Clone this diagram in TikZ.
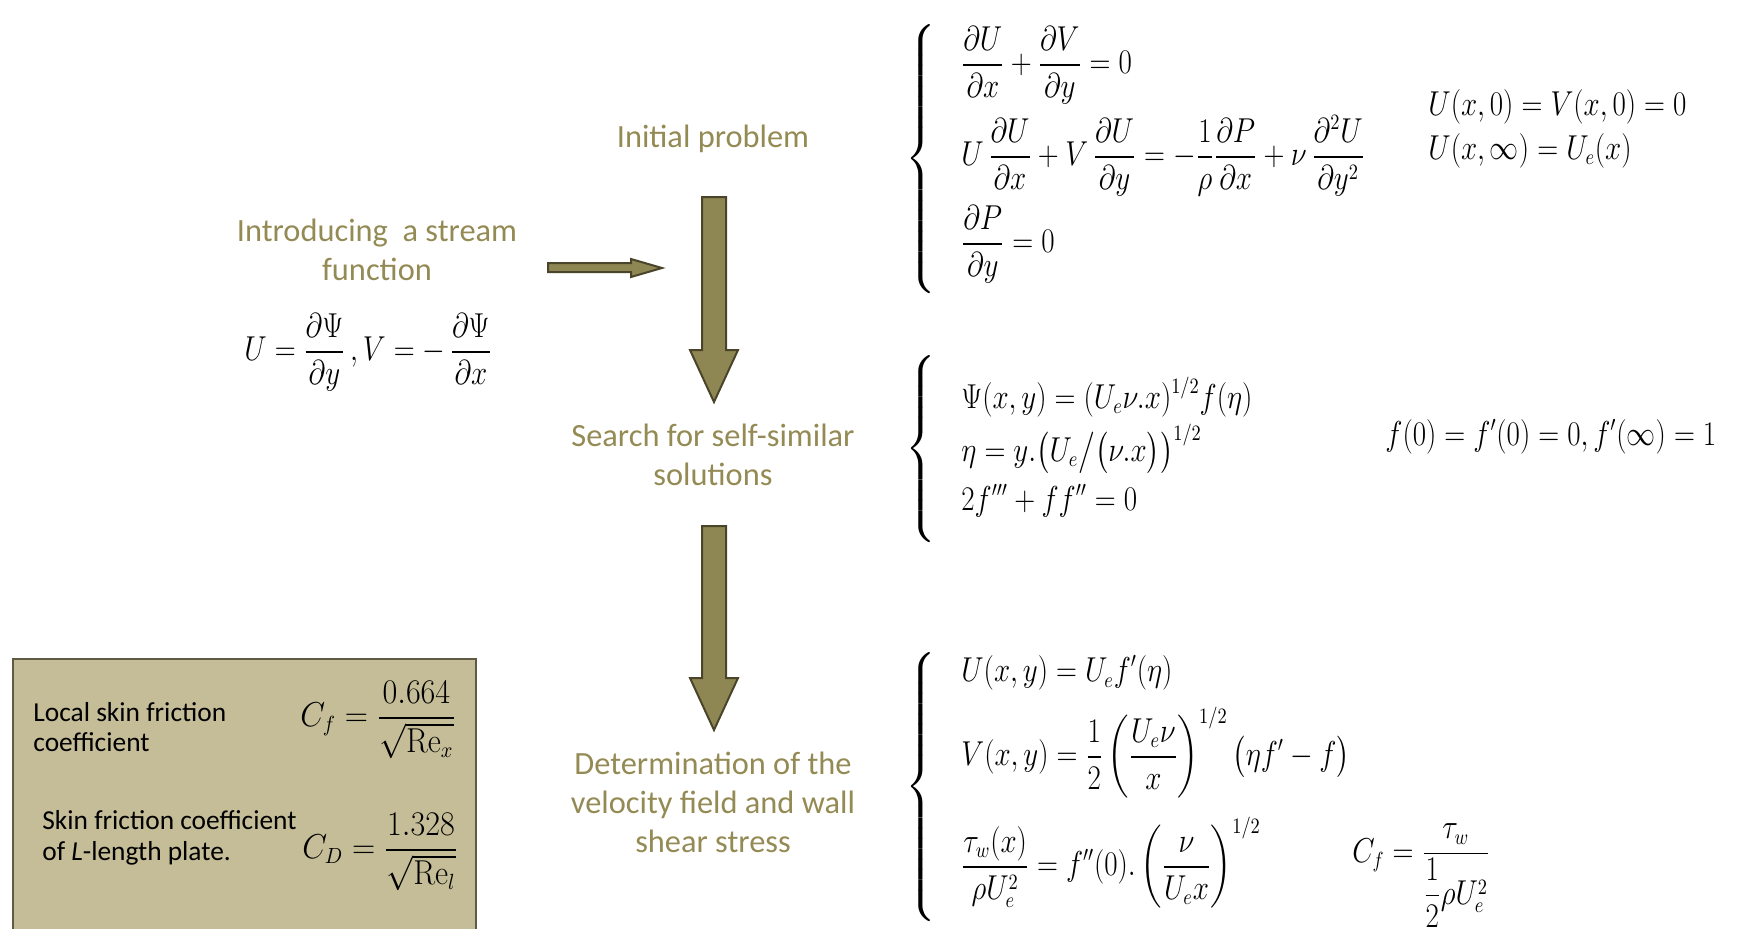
\documentclass[tikz,border=0pt]{standalone}
\usepackage{amsmath}
\usepackage{graphicx}
\usepackage[no-math]{fontspec}
\setmainfont{Carlito}
\usetikzlibrary{positioning}

\definecolor{olivetxt}{HTML}{948A54}
\definecolor{arrowfill}{HTML}{8F8753}
\definecolor{arrowline}{HTML}{4A452A}
\definecolor{boxfill}{HTML}{C4BD97}
\definecolor{boxline}{HTML}{5E5A44}

% narrow display maths, as in the slide
\newcommand{\sqz}[1]{\scalebox{0.84}[1]{$\displaystyle #1$}}

\tikzset{
  headtxt/.style={text=olivetxt, align=center, inner sep=0pt,
    font=\fontsize{16.2}{19.5}\selectfont},
  boxtxt/.style={anchor=west, align=left, inner sep=0pt,
    font=\fontsize{13.7}{15.2}\selectfont},
  eqn/.style={anchor=west, inner sep=0pt, font=\fontsize{16}{19}\selectfont},
  blockarr/.style={fill=arrowfill, draw=arrowline, line width=1pt},
}

\begin{document}
\begin{tikzpicture}[x=0.5pt,y=-0.5pt]
\useasboundingbox (0,0) rectangle (1742,928);

% flow labels
\node[headtxt] (init) at (713,139) {Initial problem};
\node[headtxt] (stream) at (377,250) {Introducing\ \ a stream\\function};
\node[headtxt] (search) at (713,455) {Search for self-similar\\solutions};
\node[headtxt] (determ) at (713,802) {Determination of the\\velocity field and wall\\shear stress};

\node[eqn, anchor=center] (streameq) at (368,352)
  {\sqz{U=\frac{\partial\Psi}{\partial y}\,,V=-\,\frac{\partial\Psi}{\partial x}}};

% block arrows
\draw[blockarr] (548,263) -- (631,263) -- (631,259) -- (662,268) -- (631,277)
  -- (631,272) -- (548,272) -- cycle;
\draw[blockarr] (702,197) -- (726,197) -- (726,350) -- (738,350) -- (714,402)
  -- (690,350) -- (702,350) -- cycle;
\draw[blockarr] (702,526) -- (726,526) -- (726,678) -- (738,678) -- (714,730)
  -- (690,678) -- (702,678) -- cycle;

% initial problem
\node[eqn] (brtop) at (905,159) {$\left\{\vcenter{\hbox{\rule{0pt}{132pt}}}\right.$};
\node[eqn] (eqcont) at (961,65)
  {\sqz{\frac{\partial U}{\partial x}+\frac{\partial V}{\partial y}=0}};
\node[eqn] (eqmom) at (961,156)
  {\sqz{U\,\frac{\partial U}{\partial x}+V\,\frac{\partial U}{\partial y}
   =-\frac{1}{\rho}\frac{\partial P}{\partial x}+\nu\,\frac{\partial^2U}{\partial y^2}}};
\node[eqn] (eqpress) at (961,244)
  {\sqz{\frac{\partial P}{\partial y}=0}};
\node[eqn] (bcwall) at (1428,107) {\sqz{U(x,0)=V(x,0)=0}};
\node[eqn] (bcfar) at (1428,151) {\sqz{U(x,\infty)=U_e(x)}};

% self-similar solutions
\node[eqn] (brmid) at (905,449) {$\left\{\vcenter{\hbox{\rule{0pt}{92pt}}}\right.$};
\node[eqn] (eqpsi) at (961,397) {\sqz{\Psi(x,y)=(U_e\nu.x)^{1/2}f(\eta)}};
\node[eqn] (eqeta) at (961,449) {\sqz{\eta=y.\bigl(U_e\big/\bigl(\nu.x\bigr)\bigr)^{1/2}}};
\node[eqn] (eqblas) at (961,501) {\sqz{2f'''+ff''=0}};
\node[eqn] (bcf) at (1385,437) {\sqz{f(0)=f'(0)=0,f'(\infty)=1}};

% velocity field and wall shear stress
\node[eqn] (brbot) at (905,787) {$\left\{\vcenter{\hbox{\rule{0pt}{136pt}}}\right.$};
\node[eqn] (equ) at (961,673) {\sqz{U(x,y)=U_ef'(\eta)}};
\node[eqn] (eqv) at (961,753)
  {\sqz{V(x,y)=\frac{1}{2}\left(\frac{U_e\nu}{x}\right)^{1/2}\bigl(\eta f'-f\bigr)}};
\node[eqn] (eqtau) at (961,863)
  {\sqz{\frac{\tau_w(x)}{\rho U_e^2}=f''(0).\left(\frac{\nu}{U_ex}\right)^{1/2}}};
\node[eqn] (eqcf) at (1352,876)
  {\sqz{C_f=\frac{\tau_w}{\dfrac{1}{2}\rho U_e^2}}};

% friction coefficients
\draw[fill=boxfill, draw=boxline, line width=1pt] (13,659) rectangle (476,940);
\node[boxtxt] (loctxt) at (33,727) {Local skin friction\\coefficient};
\node[boxtxt] (platetxt) at (42,838) {Skin friction coefficient\\of \textit{L}-length plate.};
\node[eqn] (cfloc) at (300,720)
  {\scalebox{0.93}[1]{$\displaystyle C_f=\frac{0.664}{\sqrt{\mathrm{Re}_x}}$}};
\node[eqn] (cdplate) at (302,852)
  {\scalebox{0.93}[1]{$\displaystyle C_D=\frac{1.328}{\sqrt{\mathrm{Re}_l}}$}};
\end{tikzpicture}
\end{document}
